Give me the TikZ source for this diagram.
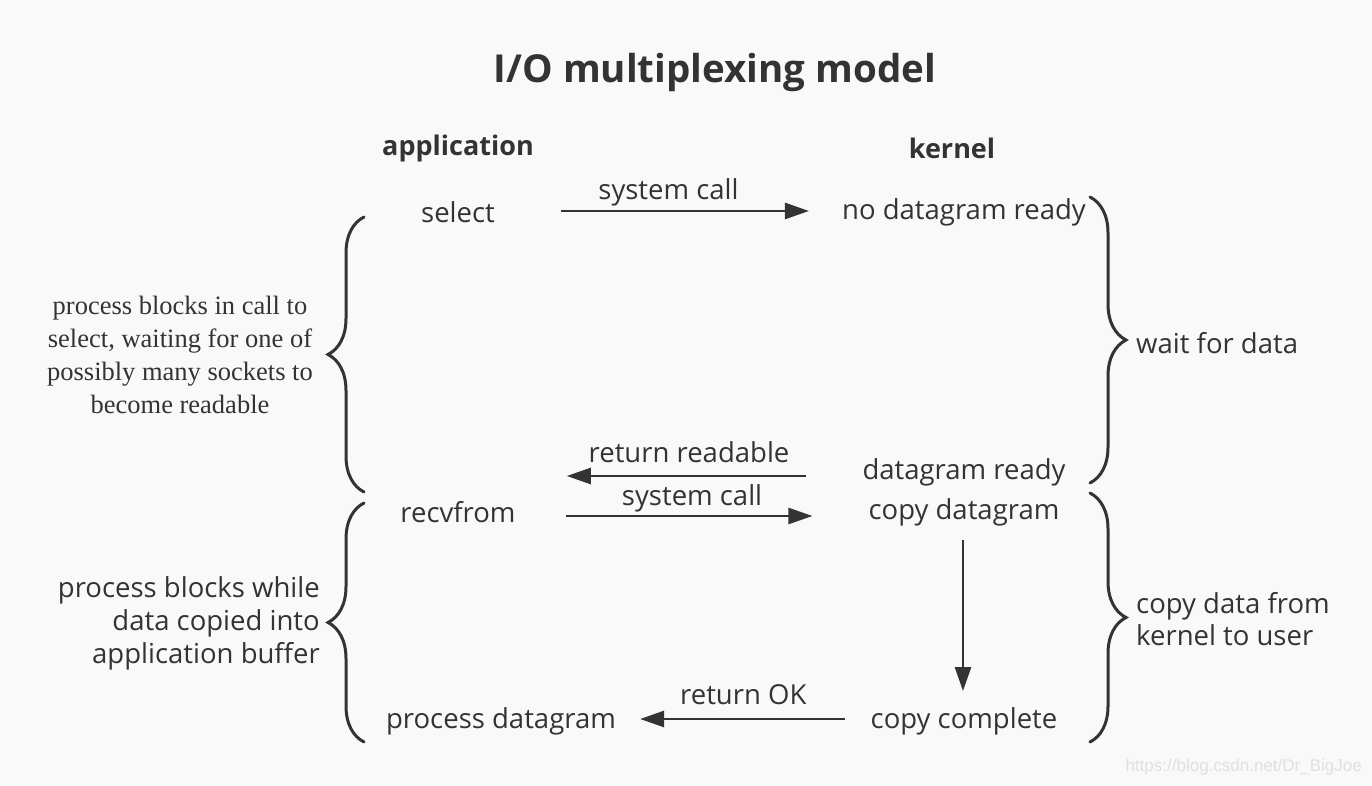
\documentclass[tikz,border=0pt]{standalone}
\usepackage{fontspec}
\setmainfont{Open Sans}
\newfontfamily\notefont{Liberation Serif}
\newfontfamily\markfont{Liberation Sans}
\usetikzlibrary{arrows.meta,decorations.pathreplacing,positioning}
\definecolor{ink}{HTML}{333333}
\definecolor{paper}{HTML}{F9F9F9}

\begin{document}
\begin{tikzpicture}[x=1pt,y=-1pt,
  lbl/.style={font=\fontsize{27.5}{32}\selectfont, text=ink, inner sep=0pt},
  head/.style={lbl, font=\fontsize{27}{32}\selectfont\bfseries},
  flow/.style={draw=ink, line width=2.6pt, -{Triangle[length=24pt,width=16pt]}},
  curly/.style={draw=ink, line width=3pt, line cap=round,
    decorate, decoration={brace, amplitude=36pt}},
  note/.style={font=\notefont\fontsize{26.5}{33}\selectfont, text=ink, inner sep=0pt}]
% page
\fill[paper] (0,0) rectangle (1372,786);
\useasboundingbox (0,0) rectangle (1372,786);
% title and columns
\node[lbl, font=\fontsize{38.5}{44}\selectfont\bfseries] (title) at (715,73) {I/O multiplexing model};
\node[head] (app) at (458,148) {application};
\node[head] (ker) at (952,148) {kernel};
% application side
\node[lbl] (sel) at (458,212) {select};
\node[lbl] (recv) at (458,512) {recvfrom};
\node[lbl] (proc) at (501,721) {process datagram};
% kernel side
\node[lbl] (nodg) at (964,212) {no datagram ready};
\node[lbl] (dgr) at (964,472) {datagram ready};
\node[lbl] (cpy) at (964,512) {copy datagram};
\node[lbl] (done) at (964,721) {copy complete};
% calls and returns
\draw[flow, shorten <=66pt, shorten >=33pt] ([yshift=1pt]sel.east) -- node[lbl, above=4pt] {system call} ([yshift=1pt]nodg.west);
\draw[flow, shorten <=56pt, shorten >=51pt] ([yshift=-4pt]dgr.west) -- node[lbl, above=12pt] {return readable} ([yshift=-4pt]dgr.west -| recv.east);
\draw[flow, shorten <=50pt, shorten >=56pt] ([yshift=-4pt]recv.east) -- node[lbl, above=3pt] {system call} ([yshift=-4pt]cpy.west);
\draw[flow, shorten <=14pt, shorten >=16pt] ([xshift=-1pt]cpy.south) -- ([xshift=-1pt]done.north);
\draw[flow, shorten <=25pt, shorten >=24pt] ([yshift=2pt]done.west) -- node[lbl, above=13pt] {return OK} ([yshift=2pt]proc.east);
% braces
\draw[curly] (364,492) -- (364,217);
\draw[curly] (364,742) -- (364,503);
\draw[curly] (1090,197) -- (1090,483);
\draw[curly] (1090,493) -- (1090,742);
% brace notes
\node[note, align=center] (waitnote) at (180,355) {process blocks in call to\\select, waiting for one of\\possibly many sockets to\\become readable};
\node[lbl, align=right, anchor=east, font=\fontsize{27.5}{33}\selectfont] (copynote) at (320,623) {process blocks while\\data copied into\\application buffer};
\node[lbl, anchor=west] (wait) at (1136,343) {wait for data};
\node[lbl, anchor=west, align=left, font=\fontsize{27.5}{32}\selectfont] (kcopy) at (1136,619) {copy data from\\kernel to user};
% watermark
\node[font=\markfont\fontsize{17}{20}\selectfont, text=black!12, anchor=east, inner sep=0pt] (mark) at (1362,767) {https://blog.csdn.net/Dr\_BigJoe};
\end{tikzpicture}
\end{document}
